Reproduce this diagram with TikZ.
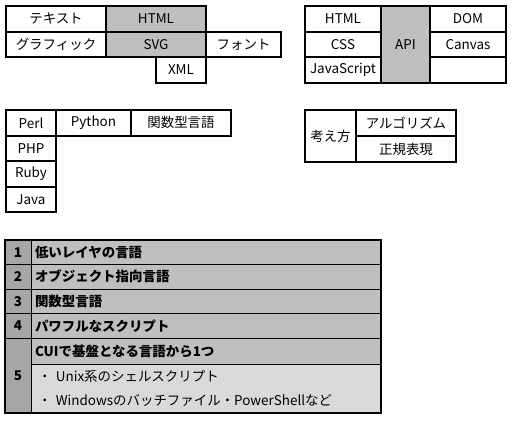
\documentclass[tikz,border=0pt]{standalone}
\usepackage{fontspec}
\newfontfamily\jp{Noto Sans CJK JP}
\definecolor{cellgray}{HTML}{BFBFBF}
\definecolor{numgray}{HTML}{A6A6A6}
\definecolor{subgray}{HTML}{D9D9D9}
\tikzset{
  cell/.style={draw, line width=2bp, outer sep=0pt, inner sep=0pt, minimum height=25.5bp,
    anchor=north west, font=\jp\fontsize{13.5}{15}\selectfont},
  core/.style={cell, fill=cellgray},
  numcell/.style={draw, line width=0.8bp, fill=numgray, outer sep=0pt, inner sep=0pt,
    minimum width=26bp, anchor=north west, font=\jp\bfseries\fontsize{13.5}{15}\selectfont},
  rowcell/.style={draw, line width=0.8bp, fill=cellgray, outer sep=0pt, inner xsep=4bp, inner ysep=0pt,
    text width=342bp, align=left, anchor=north west, font=\jp\bfseries\fontsize{13.5}{15}\selectfont},
  subcell/.style={fill=subgray, outer sep=0pt, inner xsep=7bp, inner ysep=0pt, minimum height=24.5bp,
    text width=336bp, align=left, anchor=north west, font=\jp\fontsize{13.5}{15}\selectfont}
}
\begin{document}
\begin{tikzpicture}[x=1bp, y=-1bp]
    \useasboundingbox (0,0) rectangle (514,423);

    % SVG und Umfeld
    \node[cell, minimum width=100bp] (text) at (6,6) {テキスト};
    \node[core, minimum width=100bp] (html) at (106,6) {HTML};
    \node[cell, minimum width=100bp] (graphic) at (6,31.5) {グラフィック};
    \node[core, minimum width=100bp] (svg) at (106,31.5) {SVG};
    \node[cell, minimum width=75bp] (font) at (206,31.5) {フォント};
    \node[cell, minimum width=50bp] (xml) at (156,57) {XML};

    % API mit Nachbarn
    \node[cell, minimum width=76bp] (html2) at (305,6) {HTML};
    \node[cell, minimum width=76bp] (css) at (305,31.5) {CSS};
    \node[cell, minimum width=76bp] (js) at (305,57) {JavaScript};
    \node[core, minimum width=49bp, minimum height=77bp] (api) at (381,6) {API};
    \node[cell, minimum width=76bp] (dom) at (430,6) {DOM};
    \node[cell, minimum width=76bp] (canvas) at (430,31.5) {Canvas};
    \node[cell, minimum width=76bp] (empty) at (430,57) {};

    % Skriptsprachen
    \node[cell, minimum width=50bp] (perl) at (6,110) {Perl};
    \node[cell, minimum width=75bp] (python) at (56,110) {Python};
    \node[cell, minimum width=100bp] (func) at (131,110) {関数型言語};
    \node[cell, minimum width=50bp] (php) at (6,135.5) {PHP};
    \node[cell, minimum width=50bp] (ruby) at (6,161) {Ruby};
    \node[cell, minimum width=50bp] (java) at (6,186.5) {Java};

    % Denkweise
    \node[cell, minimum width=51bp, minimum height=52bp] (idea) at (305,110) {考え方};
    \node[cell, minimum width=100bp, minimum height=26bp] (algo) at (356,110) {アルゴリズム};
    \node[cell, minimum width=100bp, minimum height=26bp] (regex) at (356,136) {正規表現};

    % Reihenfolge
    \node[numcell, minimum height=24.5bp] (n1) at (5,240) {1};
    \node[rowcell, minimum height=24.5bp] (r1) at (31,240) {低いレイヤの言語};
    \node[numcell, minimum height=24.5bp] (n2) at (5,264.5) {2};
    \node[rowcell, minimum height=24.5bp] (r2) at (31,264.5) {オブジェクト指向言語};
    \node[numcell, minimum height=24.5bp] (n3) at (5,289) {3};
    \node[rowcell, minimum height=24.5bp] (r3) at (31,289) {関数型言語};
    \node[numcell, minimum height=24.5bp] (n4) at (5,313.5) {4};
    \node[rowcell, minimum height=24.5bp] (r4) at (31,313.5) {パワフルなスクリプト};
    \node[subcell] (s1) at (31,364) {・ Unix系のシェルスクリプト};
    \node[subcell] (s2) at (31,388.5) {・ Windowsのバッチファイル・PowerShellなど};
    \node[rowcell, minimum height=26bp] (r5) at (31,338) {CUIで基盤となる言語から1つ};
    \node[numcell, minimum height=75bp] (n5) at (5,338) {5};
    \draw[line width=2bp] (n1.north west) rectangle (s2.south east);
\end{tikzpicture}
\end{document}
